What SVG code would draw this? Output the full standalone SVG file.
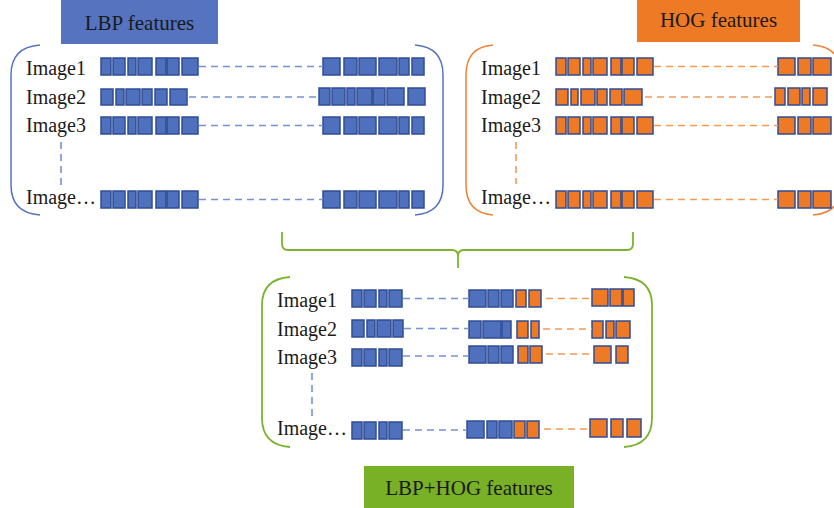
<svg xmlns="http://www.w3.org/2000/svg" xmlns:xlink="http://www.w3.org/1999/xlink" width="834" height="508" viewBox="0 0 834 508">
  <style>
    .lbl { font-family: "Liberation Serif", "Times New Roman", serif; font-size: 20px; fill: #1a1a1a; }
    .ttl { font-family: "Liberation Serif", "Times New Roman", serif; font-size: 21px; fill: #1a1a1a; text-anchor: middle; }
    .blk rect { stroke: #2F4C94; stroke-width: 1.5; }
    .b { fill: #4F70BC; }
    .o { fill: #EE7A26; }
    .dashB { stroke: #7592D2; stroke-width: 1.6; stroke-dasharray: 7 5; fill: none; }
    .dashO { stroke: #F29A58; stroke-width: 1.6; stroke-dasharray: 7 5; fill: none; }
    .brB { stroke: #5573BE; stroke-width: 1.5; fill: none; }
    .brO { stroke: #EE8235; stroke-width: 1.5; fill: none; }
    .brG { stroke: #7CB32E; stroke-width: 1.8; fill: none; }
  </style>
  <defs>
    <g id="p7" class="blk">
      <rect x="0" y="0" width="10" height="17"/>
      <rect x="12" y="0" width="12" height="17"/>
      <rect x="27" y="0" width="8" height="17"/>
      <rect x="37" y="0" width="14" height="17"/>
      <rect x="55" y="0" width="10" height="17"/>
      <rect x="66" y="0" width="12" height="17"/>
      <rect x="81" y="0" width="16" height="17"/>
    </g>
    <g id="p6r" class="blk">
      <rect x="0" y="0" width="17" height="17"/>
      <rect x="21" y="0" width="13" height="17"/>
      <rect x="36" y="0" width="17" height="17"/>
      <rect x="56" y="0" width="18" height="17"/>
      <rect x="76" y="0" width="10" height="17"/>
      <rect x="89" y="0" width="12" height="17"/>
    </g>
    <g id="p3r" class="blk">
      <rect x="0" y="0" width="17" height="17"/>
      <rect x="20" y="0" width="13" height="17"/>
      <rect x="35" y="0" width="18" height="17"/>
    </g>
    <g id="p4b" class="blk">
      <rect x="0" y="0" width="10" height="17"/>
      <rect x="12" y="0" width="12" height="17"/>
      <rect x="27" y="0" width="8" height="17"/>
      <rect x="37" y="0" width="13" height="17"/>
    </g>
  </defs>

  <rect width="834" height="508" fill="#ffffff"/>

  <!-- title boxes -->
  <g id="lbp-title">
    <rect x="61" y="0" width="157" height="44" fill="#5573BE"/>
    <text class="ttl" x="139.5" y="30">LBP features</text>
  </g>
  <g id="hog-title">
    <rect x="637" y="0" width="163" height="42" fill="#EE7A26"/>
    <text class="ttl" x="718.5" y="27">HOG features</text>
  </g>
  <g id="combined-title">
    <rect x="364" y="466" width="210" height="42" fill="#78B026"/>
    <text class="ttl" x="469" y="495">LBP+HOG features</text>
  </g>

  <!-- LBP panel -->
  <g id="lbp-panel">
    <path class="brB" d="M40,45 Q11,47 11,75 L11,185 Q11,213 40,215"/>
    <path class="brB" d="M415,45 Q443,47 443,75 L443,185 Q443,213 415,215"/>
    <text class="lbl" x="26" y="75">Image1</text>
    <text class="lbl" x="26" y="104">Image2</text>
    <text class="lbl" x="26" y="132">Image3</text>
    <text class="lbl" x="26" y="204">Image…</text>
    <use xlink:href="#p7" x="101" y="58" class="b"/>
    <use xlink:href="#p7" x="101" y="117" class="b"/>
    <use xlink:href="#p7" x="101" y="191" class="b"/>
    <g class="blk b">
      <rect x="101" y="89" width="12" height="16"/>
      <rect x="116" y="89" width="8" height="16"/>
      <rect x="126" y="89" width="14" height="16"/>
      <rect x="142" y="89" width="10" height="16"/>
      <rect x="155" y="89" width="12" height="16"/>
      <rect x="170" y="89" width="17" height="16"/>
    </g>
    <use xlink:href="#p6r" x="323" y="58" class="b"/>
    <use xlink:href="#p6r" x="323" y="117" class="b"/>
    <use xlink:href="#p6r" x="323" y="191" class="b"/>
    <g class="blk b">
      <rect x="319" y="88" width="11" height="17"/>
      <rect x="332" y="88" width="13" height="17"/>
      <rect x="347" y="88" width="8" height="17"/>
      <rect x="357" y="88" width="15" height="17"/>
      <rect x="373" y="88" width="12" height="17"/>
      <rect x="387" y="88" width="17" height="17"/>
      <rect x="408" y="88" width="17" height="17"/>
    </g>
  </g>

  <!-- HOG panel -->
  <g id="hog-panel">
    <path class="brO" d="M493,45 Q466,47 466,75 L466,185 Q466,213 493,215"/>
    <path class="brO" d="M813,45 Q841,47 841,75 L841,185 Q841,213 813,215"/>
    <text class="lbl" x="481" y="75">Image1</text>
    <text class="lbl" x="481" y="104">Image2</text>
    <text class="lbl" x="481" y="132">Image3</text>
    <text class="lbl" x="481" y="204">Image…</text>
    <use xlink:href="#p7" x="556" y="58" class="o"/>
    <use xlink:href="#p7" x="556" y="117" class="o"/>
    <use xlink:href="#p7" x="556" y="191" class="o"/>
    <g class="blk o">
      <rect x="556" y="89" width="12" height="16"/>
      <rect x="571" y="89" width="7" height="16"/>
      <rect x="581" y="89" width="14" height="16"/>
      <rect x="597" y="89" width="10" height="16"/>
      <rect x="610" y="89" width="12" height="16"/>
      <rect x="624" y="89" width="18" height="16"/>
    </g>
    <use xlink:href="#p3r" x="778" y="58" class="o"/>
    <use xlink:href="#p3r" x="778" y="117" class="o"/>
    <use xlink:href="#p3r" x="778" y="191" class="o"/>
    <g class="blk o">
      <rect x="775" y="88" width="10" height="17"/>
      <rect x="788" y="88" width="12" height="17"/>
      <rect x="802" y="88" width="8" height="17"/>
      <rect x="813" y="88" width="14" height="17"/>
    </g>
  </g>

  <!-- combined panel -->
  <g id="combined-panel">
    <path class="brG" d="M290,277 Q262,279 262,305 L262,418 Q262,445 290,447"/>
    <path class="brG" d="M624,277 Q652,279 652,305 L652,418 Q652,445 624,447"/>
    <text class="lbl" x="277" y="307">Image1</text>
    <text class="lbl" x="277" y="336">Image2</text>
    <text class="lbl" x="277" y="364">Image3</text>
    <text class="lbl" x="277" y="435">Image…</text>
    <use xlink:href="#p4b" x="352" y="290" class="b"/>
    <use xlink:href="#p4b" x="352" y="349" class="b"/>
    <use xlink:href="#p4b" x="352" y="422" class="b"/>
    <g class="blk b">
      <rect x="352" y="320" width="12" height="17"/>
      <rect x="367" y="320" width="8" height="17"/>
      <rect x="377" y="320" width="14" height="17"/>
      <rect x="393" y="320" width="10" height="17"/>
      <rect x="469" y="290" width="17" height="17"/>
      <rect x="488" y="290" width="11" height="17"/>
      <rect x="501" y="290" width="12" height="17"/>
      <rect x="469" y="321" width="12" height="17"/>
      <rect x="483" y="321" width="18" height="17"/>
      <rect x="502" y="321" width="9" height="17"/>
      <rect x="469" y="346" width="17" height="17"/>
      <rect x="488" y="346" width="11" height="17"/>
      <rect x="501" y="346" width="12" height="17"/>
      <rect x="467" y="421" width="17" height="17"/>
      <rect x="487" y="421" width="10" height="17"/>
      <rect x="499" y="421" width="13" height="17"/>
    </g>
    <g class="blk o">
      <rect x="516" y="290" width="10" height="17"/>
      <rect x="529" y="290" width="12" height="17"/>
      <rect x="517" y="321" width="11" height="17"/>
      <rect x="531" y="321" width="8" height="17"/>
      <rect x="518" y="346" width="10" height="17"/>
      <rect x="530" y="346" width="12" height="17"/>
      <rect x="514" y="421" width="11" height="17"/>
      <rect x="527" y="421" width="12" height="17"/>
      <rect x="592" y="289" width="16" height="17"/>
      <rect x="610" y="289" width="12" height="17"/>
      <rect x="623" y="289" width="11" height="17"/>
      <rect x="592" y="321" width="11" height="17"/>
      <rect x="606" y="321" width="8" height="17"/>
      <rect x="616" y="321" width="14" height="17"/>
      <rect x="594" y="346" width="17" height="17"/>
      <rect x="616" y="346" width="12" height="17"/>
      <rect x="590" y="419" width="17" height="18"/>
      <rect x="611" y="419" width="12" height="18"/>
      <rect x="627" y="419" width="14" height="18"/>
    </g>
  </g>

  <!-- connectors -->
  <g id="connectors">
    <line class="dashB" x1="199" y1="66.5" x2="323" y2="66.5"/>
    <line class="dashB" x1="189" y1="97" x2="318" y2="97"/>
    <line class="dashB" x1="199" y1="125.5" x2="323" y2="125.5"/>
    <line class="dashB" x1="199" y1="199.5" x2="323" y2="199.5"/>
    <line class="dashB" x1="61" y1="142" x2="61" y2="185"/>
    <line class="dashO" x1="654" y1="66.5" x2="778" y2="66.5"/>
    <line class="dashO" x1="645" y1="97" x2="775" y2="97"/>
    <line class="dashO" x1="654" y1="125.5" x2="778" y2="125.5"/>
    <line class="dashO" x1="654" y1="199.5" x2="778" y2="199.5"/>
    <line class="dashO" x1="516" y1="142" x2="516" y2="184"/>
    <path class="brG" d="M282,232 L282,244 Q282,250 288,250 L452,250 Q458,250 458,256 L458,268 M458,256 Q458,250 464,250 L627,250 Q633,250 633,244 L633,232"/>
    <line class="dashB" x1="403" y1="298.5" x2="469" y2="298.5"/>
    <line class="dashB" x1="404" y1="328.5" x2="469" y2="328.5"/>
    <line class="dashB" x1="403" y1="356" x2="469" y2="356"/>
    <line class="dashB" x1="403" y1="430" x2="467" y2="430"/>
    <line class="dashB" x1="312" y1="373" x2="312" y2="416"/>
    <line class="dashO" x1="546" y1="298.5" x2="592" y2="298.5"/>
    <line class="dashO" x1="543" y1="329" x2="592" y2="329"/>
    <line class="dashO" x1="546" y1="354" x2="594" y2="354"/>
    <line class="dashO" x1="544" y1="429" x2="590" y2="429"/>
  </g>
</svg>
